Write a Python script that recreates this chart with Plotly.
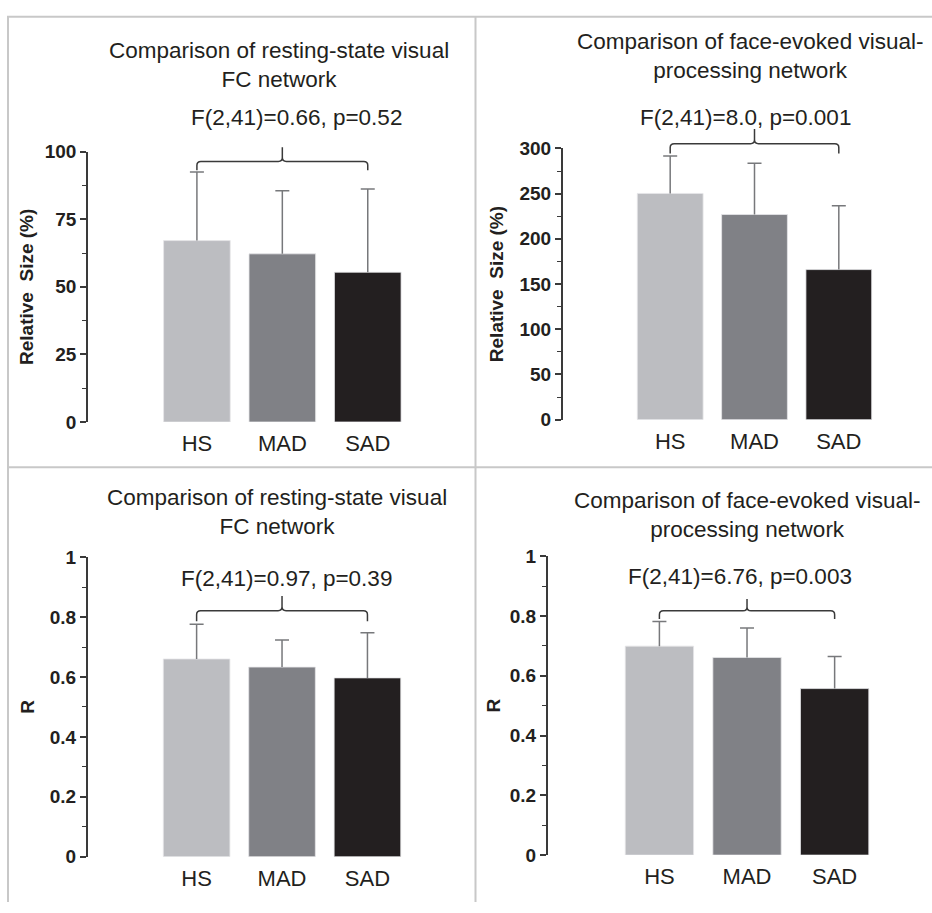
import plotly.graph_objects as go

W, H = 932, 913
FONT = "Liberation Sans, Arial, sans-serif"
TXT = "#231f20"

categories = ["HS", "MAD", "SAD"]
cat_pos = [1, 2, 3]
bar_colors = ["#bcbdc1", "#808186", "#231f20"]

titles = [
    "Comparison of resting-state visual<br>FC network",
    "Comparison of face-evoked visual-<br>processing network",
    "Comparison of resting-state visual<br>FC network",
    "Comparison of face-evoked visual-<br>processing network",
]
stats = [
    "F(2,41)=0.66, p=0.52",
    "F(2,41)=8.0, p=0.001",
    "F(2,41)=0.97, p=0.39",
    "F(2,41)=6.76, p=0.003",
]
y_titles = ["Relative\u00a0 Size (%)", "Relative\u00a0 Size (%)", "R", "R"]

# values (mean, upper error)
size_rest_mean = [67.1, 62.2, 55.4]
size_rest_sd = [25.4, 23.3, 30.8]
size_face_mean = [250.2, 226.9, 166.0]
size_face_sd = [41.5, 56.8, 70.6]
r_rest_mean = [0.660, 0.633, 0.597]
r_rest_sd = [0.116, 0.090, 0.151]
r_face_mean = [0.699, 0.661, 0.557]
r_face_sd = [0.082, 0.099, 0.107]

means = [size_rest_mean, size_face_mean, r_rest_mean, r_face_mean]
sds = [size_rest_sd, size_face_sd, r_rest_sd, r_face_sd]
y_max = [100, 300, 1, 1]
y_dtick = [25, 50, 0.2, 0.2]
y_minor = [12.5, 25, 0.1, 0.1]
brackets = [
    [93.1, 96.4, 101.6],
    [294.5, 305.3, 321.5],
    [0.786, 0.821, 0.870],
    [0.790, 0.817, 0.857],
]

geo = [
    (88.0, 419.0, 145.0, 421.7),
    (562.7, 889.4, 141.7, 419.3),
    (87.7, 418.7, 560.0, 866.7),
    (547.7, 887.2, 559.0, 865.0),
]
title_px = [(279, 56.5), (750, 47.5), (277, 513.5), (747, 516.5)]
stat_px = [(296, 110), (745.5, 110), (286.7, 581.7), (740.2, 580.3)]
ytitle_standoff = [6, 11, 10, 4]
X_RANGE = [-0.275, 3.6]

fig = go.Figure()
layout = dict(
    width=W, height=H, margin=dict(l=0, r=0, t=0, b=0),
    paper_bgcolor="white", plot_bgcolor="white", showlegend=False,
    font=dict(family=FONT, color=TXT),
)
shapes = []
annotations = []

for i in range(4):
    n = "" if i == 0 else str(i + 1)
    xa, ya = "x" + n, "y" + n
    x0, x1, yt, yb = geo[i]
    layout["xaxis" + n] = dict(
        domain=[x0 / W, x1 / W], range=X_RANGE, anchor=ya,
        showline=False, showgrid=False, zeroline=False, ticks="",
        tickvals=cat_pos, ticktext=categories,
        tickfont=dict(size=22, color=TXT, family=FONT),
        ticklabelstandoff=6, fixedrange=True,
    )
    layout["yaxis" + n] = dict(
        domain=[1 - yb / H, 1 - yt / H], range=[0, y_max[i]], anchor=xa,
        showline=True, linecolor="#3a3a3a", linewidth=1.5,
        showgrid=False, zeroline=False,
        ticks="outside", ticklen=6, tickwidth=1.5, tickcolor="#3a3a3a",
        dtick=y_dtick[i], tick0=0,
        minor=dict(dtick=y_minor[i], ticks="outside", ticklen=4,
                   tickwidth=1.2, tickcolor="#3a3a3a"),
        tickfont=dict(size=19, color=TXT, family=FONT, weight="bold"),
        title=dict(text="<b>" + y_titles[i] + "</b>", standoff=ytitle_standoff[i],
                   font=dict(size=19, color=TXT, family=FONT)),
        fixedrange=True,
    )

    fig.add_trace(go.Bar(
        x=cat_pos, y=means[i], xaxis=xa, yaxis=ya,
        marker=dict(color=bar_colors, line=dict(width=0.8, color="#e6e6e8")),
        width=0.78,
    ))
    tops = [m + s for m, s in zip(means[i], sds[i])]
    fig.add_trace(go.Scatter(
        x=cat_pos, y=tops, xaxis=xa, yaxis=ya, mode="markers",
        marker=dict(symbol="line-ew", size=10, color="#77787b",
                    line=dict(width=1.5, color="#77787b")),
        error_y=dict(type="data", symmetric=False, array=[0, 0, 0],
                     arrayminus=sds[i], width=0, thickness=1.5, color="#77787b"),
        hoverinfo="skip",
    ))

    yE, yH, yB = [v / y_max[i] for v in brackets[i]]
    pxu = (x1 - x0) / (X_RANGE[1] - X_RANGE[0])
    rx = 4 / pxu
    ry = 4 / (yb - yt)
    a, m, c = cat_pos[0], cat_pos[1], cat_pos[2]
    path = (
        f"M {a},{yE} L {a},{yH - ry} Q {a},{yH} {a + rx},{yH} "
        f"L {m - rx},{yH} Q {m},{yH} {m},{yH + ry} L {m},{yB} "
        f"M {m},{yH + ry} Q {m},{yH} {m + rx},{yH} "
        f"L {c - rx},{yH} Q {c},{yH} {c},{yH - ry} L {c},{yE}"
    )
    shapes.append(dict(type="path", path=path, xref=xa, yref=ya + " domain",
                       line=dict(color="#3a3a3a", width=1.5)))

    tx, ty = title_px[i]
    annotations.append(dict(
        text=titles[i], x=tx / W, y=1 - ty / H, xref="paper", yref="paper",
        xanchor="center", yanchor="middle", showarrow=False,
        font=dict(size=22.5, color=TXT, family=FONT),
    ))
    sx, sy = stat_px[i]
    annotations.append(dict(
        text=stats[i], x=sx / W, y=1 - sy / H, xref="paper", yref="paper",
        xanchor="center", yanchor="middle", showarrow=False,
        font=dict(size=22.5, color=TXT, family=FONT),
    ))

BC = "#c8c8c8"
for (ax0, ay0, ax1, ay1) in [(7, 7, 932, 7), (8, 7, 8, 913), (475.5, 7, 475.5, 913), (8, 468, 932, 468)]:
    shapes.append(dict(type="line", xref="paper", yref="paper",
                       x0=ax0 / W, x1=ax1 / W, y0=1 - ay0 / H, y1=1 - ay1 / H,
                       line=dict(color=BC, width=2), layer="below"))

layout["shapes"] = shapes
layout["annotations"] = annotations
fig.update_layout(**layout)
fig.write_html("out.html")
